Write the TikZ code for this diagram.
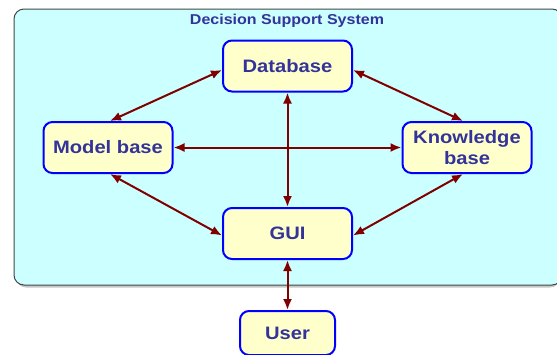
\documentclass[tikz,border=0pt]{standalone}
\usepackage{fontspec}
\setmainfont{Liberation Sans}[FakeStretch=1.12]
\usetikzlibrary{arrows.meta}
\definecolor{txtblue}{HTML}{333399}
\definecolor{boxfill}{HTML}{FFFFCC}
\definecolor{boxline}{HTML}{0000FF}
\definecolor{bgfill}{HTML}{CCFFFF}
\definecolor{bgline}{HTML}{404848}
\definecolor{arrred}{HTML}{800000}
\tikzset{
  compbox/.style={draw=boxline, fill=boxfill, line width=2pt, rounded corners=9pt,
    minimum width=129pt, minimum height=51pt, inner sep=0pt, align=center,
    text=txtblue, font=\fontsize{18}{21}\selectfont\bfseries},
  link/.style={draw=arrred, line width=2pt, {Latex[length=11pt,width=9pt]}-{Latex[length=11pt,width=9pt]}},
}
\begin{document}
\begin{tikzpicture}[x=1pt,y=-1pt]
\useasboundingbox (0,0) rectangle (557,354);
\fill[gray!45, rounded corners=10pt] (16,11) rectangle (560,287.5);
\draw[fill=bgfill, draw=bgline, line width=1pt, rounded corners=10pt] (14,9) rectangle (562,285);
\node[text=txtblue, font=\fontsize{14.3}{16}\selectfont\bfseries] (title) at (287,21) {Decision Support System};
\node[compbox] (db) at (287.5,66) {Database};
\node[compbox] (mb) at (108,147.5) {Model base};
\node[compbox] (kb) at (467,147.5) {Knowledge\\base};
\node[compbox] (gui) at (287.5,233.5) {GUI};
\node[compbox, minimum width=95pt, minimum height=44pt] (user) at (287.5,333) {User};
\draw[link] ([yshift=-4pt]db.west) -- ([xshift=2pt]mb.north);
\draw[link] ([yshift=-4pt]db.east) -- ([xshift=-4pt]kb.north);
\draw[link] (mb.east) -- (kb.west);
\draw[link] (db.south) -- (gui.north);
\draw[link] ([xshift=2pt]mb.south) -- ([yshift=-2pt]gui.west);
\draw[link] ([xshift=-4pt]kb.south) -- ([yshift=-2pt]gui.east);
\draw[link] (gui.south) -- (user.north);
\end{tikzpicture}
\end{document}
